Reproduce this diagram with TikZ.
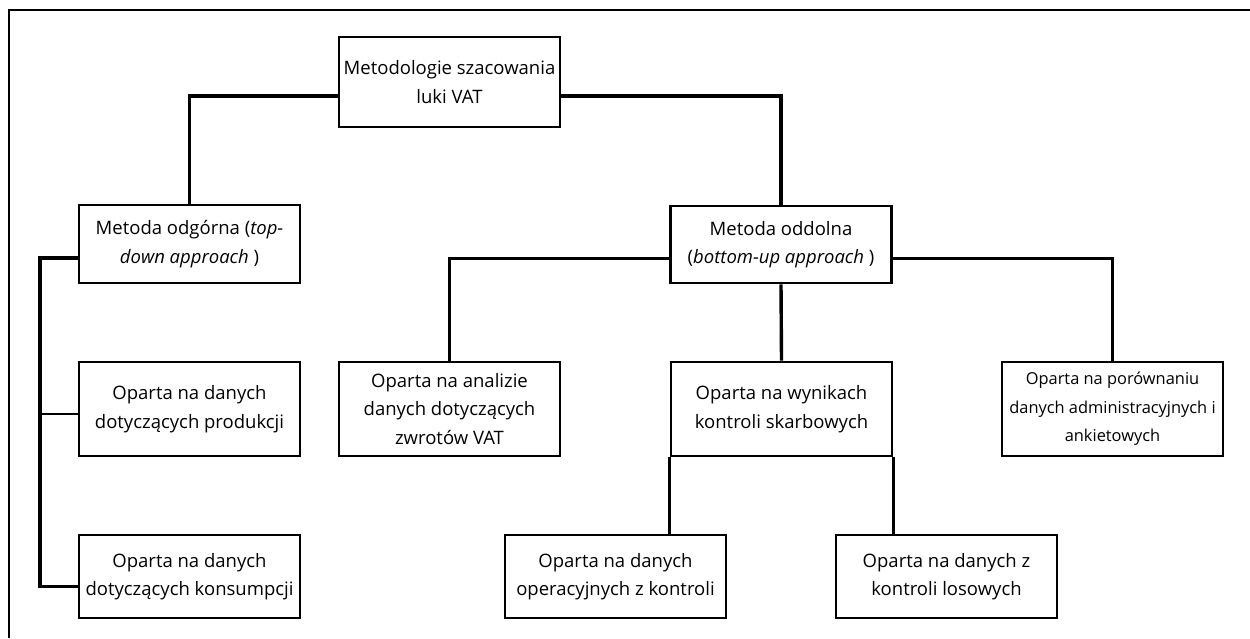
\documentclass[tikz,border=0pt]{standalone}
\usepackage{fontspec}
\setmainfont{Open Sans}
\usepackage{tikz}
\usetikzlibrary{calc}
\tikzset{ box/.style = { rectangle % method box
        , draw
        , line width = 2.6pt
        , minimum width = 221pt
        , align = center
        , inner sep = 2pt
        , font = \fontsize{18.5}{28.5}\selectfont
        }
        , conn/.style = { line width = 3.4pt % main connector
        }
        , thinconn/.style = { line width = 1.8pt % side branch
        }
        }

\begin{document}
\begin{tikzpicture}[x=1pt, y=-1pt]
        \useasboundingbox (0,0) rectangle (1250,638);
        % frame
        \draw [line width=2.8pt] (9,638) -- (9,10) -- (1250,10);

        \node [box, minimum height=90pt] (root) at (449.5,82) {Metodologie szacowania\\luki VAT};
        \node [box, minimum height=78pt] (odg) at (189.5,244) {Metoda odgórna (\textit{top-}\\\textit{down approach} )};
        \node [box, minimum height=77pt] (odd) at (781,244.5) {Metoda oddolna\\(\textit{bottom-up approach} )};
        \node [box, minimum height=94pt] (prod) at (189.5,409) {Oparta na danych\\dotyczących produkcji};
        \node [box, minimum height=83pt] (kons) at (189.5,576.5) {Oparta na danych\\dotyczących konsumpcji};
        \node [box, minimum height=94pt] (zwrot) at (449.5,409) {Oparta na analizie\\danych dotyczących\\zwrotów VAT};
        \node [box, minimum height=94pt] (wyn) at (781.5,409) {Oparta na wynikach\\kontroli skarbowych};
        \node [box, minimum height=94pt, font=\fontsize{16.4}{28.5}\selectfont] (por) at (1112.5,409) {Oparta na porównaniu\\danych administracyjnych i\\ankietowych};
        \node [box, minimum height=83pt] (oper) at (615.5,576.5) {Oparta na danych\\operacyjnych z kontroli};
        \node [box, minimum height=83pt] (los) at (946.5,576.5) {Oparta na danych z\\kontroli losowych};

        \coordinate (busL) at (40,258);
        \draw [conn] ($(root.west)+(0,14)$) -| (odg.north);
        \draw [conn] ($(root.east)+(0,14)$) -| (odd.north);
        \draw [conn] ($(odg.west)+(0,14)$) -- (busL) |- ($(kons.west)+(0,10)$);
        \draw [thinconn] (busL |- 0,414) -- ($(prod.west)+(0,5)$);
        \draw [conn] ($(odd.west)+(0,14)$) -| (zwrot.north);
        \draw [conn] (odd.south) -- (wyn.north);
        \draw [conn] ($(odd.east)+(0,14)$) -| (por.north);
        \draw [conn] (wyn.south west) -- (wyn.south west |- oper.north);
        \draw [conn] (wyn.south east) -- (wyn.south east |- los.north);
\end{tikzpicture}
\end{document}
